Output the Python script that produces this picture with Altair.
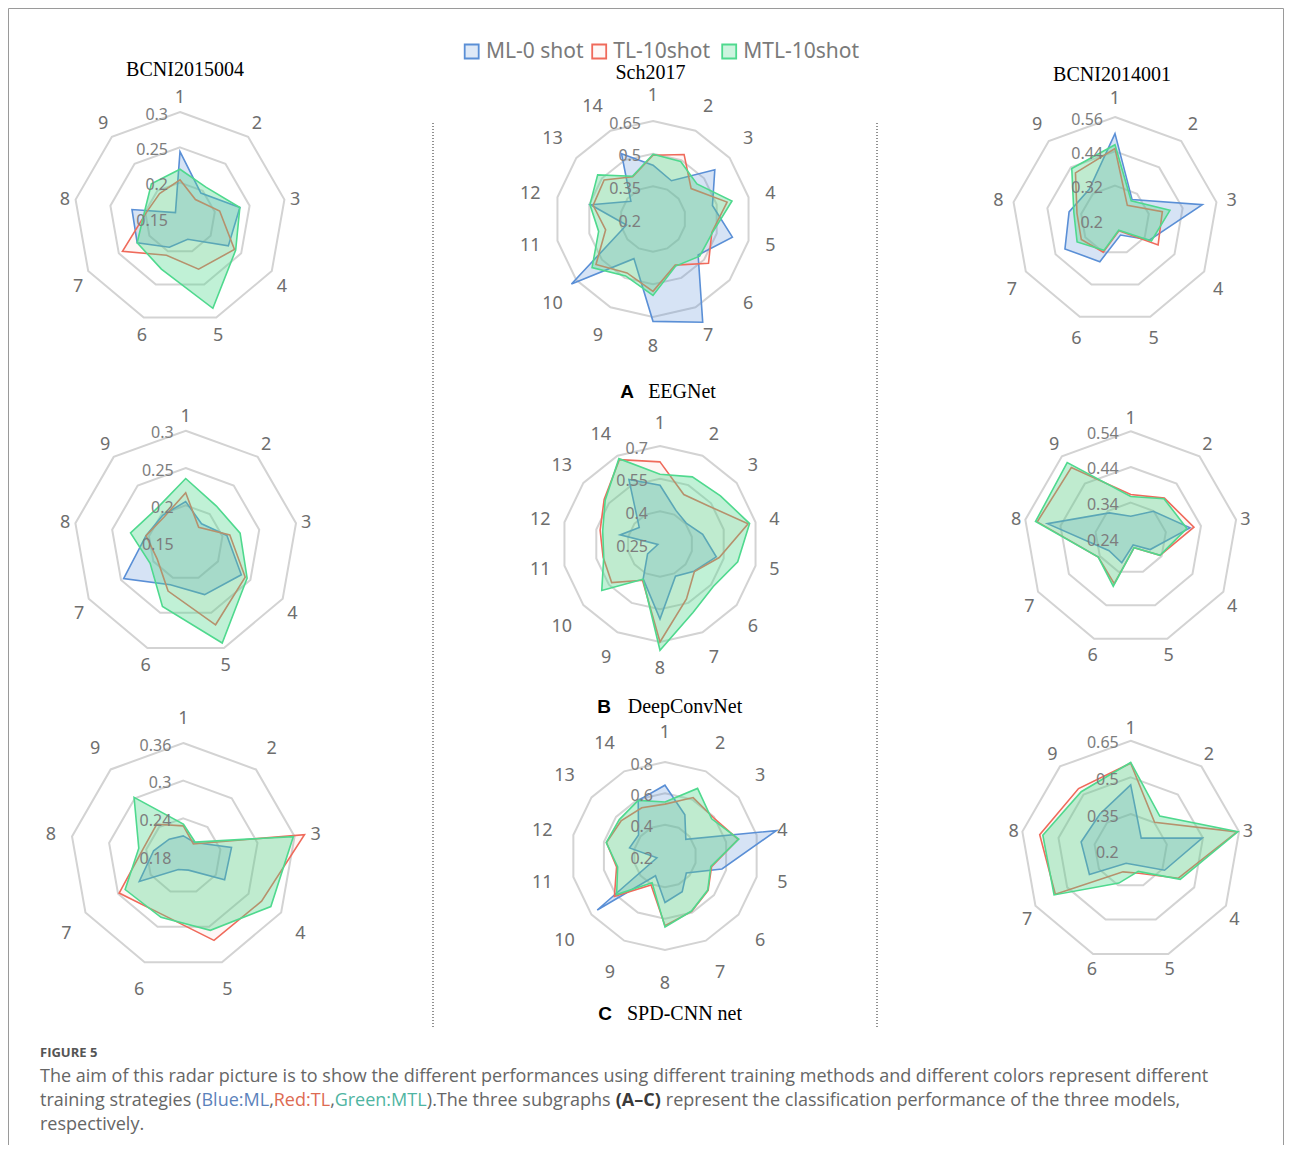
import altair as alt
import pandas as pd

# ---------------- values ----------------
SERIES = ["ML", "TL", "MTL"]
LEGEND_TEXT = ["ML-0 shot", "TL-10shot", "MTL-10shot"]
DATASETS = ["BCNI2015004", "Sch2017", "BCNI2014001"]
MODEL_LETTERS = ["A", "B", "C"]
MODEL_NAMES = ["EEGNet", "DeepConvNet", "SPD-CNN net"]

# (A) EEGNet
A_BCNI2015004_ML = [0.244, 0.196, 0.236, 0.229, 0.182, 0.194, 0.220, 0.219, 0.160]
A_BCNI2015004_TL = [0.204, 0.184, 0.207, 0.239, 0.227, 0.206, 0.244, 0.198, 0.195]
A_BCNI2015004_MTL = [0.219, 0.207, 0.236, 0.241, 0.286, 0.227, 0.220, 0.201, 0.213]
A_Sch2017_ML = [0.447, 0.395, 0.563, 0.480, 0.574, 0.465, 0.726, 0.670, 0.402, 0.679, 0.325, 0.494, 0.330, 0.533]
A_Sch2017_TL = [0.493, 0.529, 0.424, 0.549, 0.477, 0.526, 0.435, 0.532, 0.475, 0.535, 0.423, 0.482, 0.487, 0.415]
A_Sch2017_MTL = [0.497, 0.493, 0.458, 0.572, 0.480, 0.474, 0.440, 0.551, 0.490, 0.558, 0.456, 0.497, 0.525, 0.418]
A_BCNI2014001_ML = [0.502, 0.293, 0.510, 0.340, 0.256, 0.355, 0.402, 0.363, 0.340]
A_BCNI2014001_TL = [0.450, 0.267, 0.368, 0.374, 0.240, 0.320, 0.336, 0.335, 0.415]
A_BCNI2014001_MTL = [0.463, 0.288, 0.395, 0.347, 0.238, 0.313, 0.353, 0.346, 0.435]

# (B) DeepConvNet
B_BCNI2015004_ML = [0.205, 0.183, 0.206, 0.236, 0.224, 0.210, 0.246, 0.204, 0.198]
B_BCNI2015004_TL = [0.217, 0.177, 0.210, 0.242, 0.267, 0.219, 0.194, 0.204, 0.195]
B_BCNI2015004_MTL = [0.236, 0.214, 0.224, 0.245, 0.293, 0.241, 0.205, 0.225, 0.210]
B_Sch2017_ML = [0.520, 0.420, 0.404, 0.451, 0.515, 0.450, 0.414, 0.595, 0.428, 0.323, 0.260, 0.438, 0.372, 0.579]
B_Sch2017_TL = [0.627, 0.502, 0.532, 0.665, 0.529, 0.452, 0.530, 0.700, 0.435, 0.534, 0.518, 0.532, 0.578, 0.680]
B_Sch2017_MTL = [0.570, 0.592, 0.605, 0.672, 0.616, 0.563, 0.599, 0.738, 0.430, 0.592, 0.515, 0.520, 0.572, 0.685]
B_BCNI2014001_ML = [0.302, 0.339, 0.409, 0.303, 0.260, 0.313, 0.310, 0.477, 0.333]
B_BCNI2014001_TL = [0.363, 0.387, 0.420, 0.335, 0.268, 0.375, 0.345, 0.506, 0.499]
B_BCNI2014001_MTL = [0.357, 0.385, 0.400, 0.335, 0.268, 0.383, 0.345, 0.511, 0.517]

# (C) SPD-CNN net
C_BCNI2015004_ML = [0.212, 0.208, 0.258, 0.256, 0.204, 0.203, 0.261, 0.228, 0.215]
C_BCNI2015004_TL = [0.228, 0.205, 0.376, 0.324, 0.323, 0.279, 0.298, 0.245, 0.246]
C_BCNI2015004_MTL = [0.231, 0.209, 0.358, 0.341, 0.306, 0.284, 0.287, 0.252, 0.302]
C_Sch2017_ML = [0.652, 0.492, 0.370, 0.929, 0.573, 0.374, 0.453, 0.497, 0.340, 0.753, 0.253, 0.432, 0.416, 0.594]
C_Sch2017_TL = [0.531, 0.614, 0.594, 0.679, 0.505, 0.552, 0.592, 0.645, 0.405, 0.613, 0.517, 0.583, 0.559, 0.542]
C_Sch2017_MTL = [0.545, 0.679, 0.581, 0.683, 0.500, 0.549, 0.590, 0.654, 0.390, 0.595, 0.510, 0.585, 0.573, 0.594]
C_BCNI2014001_ML = [0.469, 0.267, 0.497, 0.360, 0.262, 0.255, 0.395, 0.406, 0.396]
C_BCNI2014001_TL = [0.558, 0.352, 0.642, 0.425, 0.298, 0.292, 0.556, 0.578, 0.532]
C_BCNI2014001_MTL = [0.561, 0.385, 0.645, 0.434, 0.290, 0.341, 0.562, 0.565, 0.515]

# radial tick values of every radar (first = centre)
TICKS_A_BCNI2015004 = [0.15, 0.20, 0.25, 0.30]
TICKS_A_Sch2017 = [0.20, 0.35, 0.50, 0.65]
TICKS_A_BCNI2014001 = [0.20, 0.32, 0.44, 0.56]
TICKS_B_BCNI2015004 = [0.15, 0.20, 0.25, 0.30]
TICKS_B_Sch2017 = [0.25, 0.40, 0.55, 0.70]
TICKS_B_BCNI2014001 = [0.24, 0.34, 0.44, 0.54]
TICKS_C_BCNI2015004 = [0.18, 0.24, 0.30, 0.36]
TICKS_C_Sch2017 = [0.20, 0.40, 0.60, 0.80]
TICKS_C_BCNI2014001 = [0.20, 0.35, 0.50, 0.65]

CAPTION_HEAD = "FIGURE 5"
CAPTION_L1 = ("The aim of this radar picture is to show the different performances using different "
              "training methods and different colors represent different")
CAPTION_L2 = ["training strategies (", "Blue:ML", ",", "Red:TL", ",", "Green:MTL",
              ").The three subgraphs ", "(A\u2013C)",
              " represent the classification performance of the three models,"]
CAPTION_L3 = "respectively."

# ---------------- layout (page pixels) ----------------
W, H = 1276, 1137
OFF = 8
# centre x, centre y, outer radius, axis-name gap
PANEL = {
    ("A", "BCNI2015004"): (180, 218, 106, 5.5),
    ("A", "Sch2017"): (653, 219, 98, 17),
    ("A", "BCNI2014001"): (1115, 220, 103, 10),
    ("B", "BCNI2015004"): (185.7, 542.7, 112, 5),
    ("B", "Sch2017"): (660, 544, 98, 14),
    ("B", "BCNI2014001"): (1130.7, 538.3, 107, 4),
    ("C", "BCNI2015004"): (183.3, 856, 113, 16),
    ("C", "Sch2017"): (665, 856, 94, 21),
    ("C", "BCNI2014001"): (1130.7, 850.7, 110, 3.5),
}
TITLE_POS = [(185, 76), (650.5, 79), (1112, 80.5)]
MODEL_POS = [(627, 682, 398), (604, 685, 713), (605, 684.5, 1019.5)]
LEGEND_SQ_X = [471.7, 599.2, 729.2]
LEGEND_TX_X = [486, 613.3, 743.3]
LEGEND_Y = 51.5
CAP_X0, CAP_W1 = 40, 1170
CAP_Y = [1052.5, 1077, 1101, 1125]

STYLE = {
    "ML": dict(stroke="#5a8fd6", fop=0.25),
    "TL": dict(stroke="#ef6a5b", fop=0.06),
    "MTL": dict(stroke="#4fd98e", fop=0.36),
}
SANS = "Noto Sans"
SERIF = "Liberation Serif"
CAPF = "Open Sans"

# approximate Open Sans advance widths (em) used to lay caption pieces end to end
_REG = {' ': .26, '(': .296, ')': .296, ',': .244, '.': .266, ':': .266, '-': .322, '\u2013': .5,
        'a': .556, 'b': .613, 'c': .476, 'd': .613, 'e': .561, 'f': .339, 'g': .548, 'h': .614,
        'i': .253, 'j': .253, 'k': .525, 'l': .253, 'm': .930, 'n': .614, 'o': .604, 'p': .613,
        'q': .613, 'r': .408, 's': .477, 't': .353, 'u': .614, 'v': .501, 'w': .778, 'x': .524,
        'y': .504, 'z': .468, 'A': .633, 'B': .648, 'C': .631, 'G': .728, 'L': .524, 'M': .903,
        'R': .618, 'T': .553}
_BOLD = {'(': .38, ')': .38, 'A': .74, 'C': .70, '\u2013': .58}


def em_width(s, bold=False):
    tab = _BOLD if bold else _REG
    return sum(tab.get(c, _REG.get(c, .55)) for c in s)


CAP_FS = CAP_W1 / em_width(CAPTION_L1)

VALUES = {}
TICKS = {}
for L in MODEL_LETTERS:
    for d in DATASETS:
        VALUES[(L, d)] = {s: globals()[f"{L}_{d}_{s}"] for s in SERIES}
        TICKS[(L, d)] = globals()[f"TICKS_{L}_{d}"]

rows_series, rows_rings, rows_ticklab, rows_names = [], [], [], []
for key, vals in VALUES.items():
    cx, cy, R, gap = PANEL[key]
    ticks = TICKS[key]
    n = len(vals["ML"])
    cid = f"{key[0]}-{key[1]}"
    base = dict(chart=cid, cx=cx - OFF, cy=cy - OFF, R=R, gap=gap, n=n,
                vmin=ticks[0], vmax=ticks[-1])
    for s in SERIES:
        for k, v in enumerate(vals[s]):
            rows_series.append({**base, "series": s, "k": k, "value": v, "key": cid + s})
    for t in ticks[1:]:
        for k in range(n):
            rows_rings.append({**base, "k": k, "value": t, "key": f"{cid}-{t}"})
    for t in ticks:
        rows_ticklab.append({**base, "k": 0, "value": t, "label": f"{t:g}"})
    for k in range(n):
        rows_names.append({**base, "k": k, "value": ticks[-1], "label": str(k + 1)})

df_series = pd.DataFrame(rows_series)
df_rings = pd.DataFrame(rows_rings)
df_ticklab = pd.DataFrame(rows_ticklab)
df_names = pd.DataFrame(rows_names)

XS = alt.Scale(domain=[0, W], nice=False, zero=False)
YS = alt.Scale(domain=[0, H], nice=False, zero=False, reverse=True)


def X(f):
    return alt.X(f, type="quantitative", scale=XS, axis=None)


def Y(f):
    return alt.Y(f, type="quantitative", scale=YS, axis=None)


def polar(ch):
    return (ch.transform_calculate(ang="2*PI*datum.k/datum.n")
            .transform_calculate(rr="datum.R*(datum.value-datum.vmin)/(datum.vmax-datum.vmin)")
            .transform_calculate(px="datum.cx + datum.rr*sin(datum.ang)")
            .transform_calculate(py="datum.cy - datum.rr*cos(datum.ang)"))


layers = []

# frame and dividers
df_frame = pd.DataFrame([
    dict(x=0.5, x2=0.5, y=0.5, y2=H),
    dict(x=0.5, x2=W - 0.5, y=0.5, y2=0.5),
    dict(x=W - 0.5, x2=W - 0.5, y=0.5, y2=H),
])
layers.append(alt.Chart(df_frame).mark_rule(color="#9a9a9a", strokeWidth=1).encode(
    x=X("x"), x2="x2:Q", y=Y("y"), y2="y2:Q"))
df_div = pd.DataFrame([dict(x=433 - OFF, y=123 - OFF, y2=1027 - OFF),
                       dict(x=877 - OFF, y=123 - OFF, y2=1027 - OFF)])
layers.append(alt.Chart(df_div).mark_rule(color="#222", strokeWidth=1, strokeDash=[1, 2]).encode(
    x=X("x"), y=Y("y"), y2="y2:Q"))

# grid rings
layers.append(polar(alt.Chart(df_rings)).mark_line(
    interpolate="linear-closed", stroke="#d3d3d3", strokeWidth=2).encode(
    x=X("px"), y=Y("py"), order="k:Q", detail="key:N"))

# series polygons
for s in SERIES:
    st = STYLE[s]
    layers.append(polar(alt.Chart(df_series).transform_filter(f"datum.series == '{s}'")).mark_line(
        interpolate="linear-closed", stroke=st["stroke"], strokeWidth=1.6,
        fill=st["stroke"], fillOpacity=st["fop"]).encode(
        x=X("px"), y=Y("py"), order="k:Q", detail="key:N"))

# radial tick labels
layers.append(polar(alt.Chart(df_ticklab))
              .transform_calculate(lx="datum.px - 12", ly="datum.py + 2.5")
              .mark_text(align="right", baseline="middle", font=SANS, fontSize=16, color="#7d7d7d")
              .encode(x=X("lx"), y=Y("ly"), text="label:N"))

# axis names
layers.append(alt.Chart(df_names)
              .transform_calculate(ang="2*PI*datum.k/datum.n")
              .transform_calculate(
                  nx="datum.cx + (datum.R+datum.gap)*sin(datum.ang) + (abs(sin(datum.ang))>0.38 ? (sin(datum.ang)>0?1:-1)*length(datum.label)*5.3 : 0)",
                  ny="datum.cy + 1 - (datum.R+datum.gap)*cos(datum.ang) + (abs(cos(datum.ang))>0.35 ? (cos(datum.ang)>0?-9.5:12) : 0)")
              .mark_text(align="center", baseline="middle", font=SANS, fontSize=18, color="#6e6e6e")
              .encode(x=X("nx"), y=Y("ny"), text="label:N"))

# dataset titles
df_titles = pd.DataFrame([dict(t=d, x=p[0] - OFF, y=p[1] - OFF) for d, p in zip(DATASETS, TITLE_POS)])
layers.append(alt.Chart(df_titles).mark_text(align="center", baseline="alphabetic", font=SERIF,
                                             fontSize=20, color="#000").encode(
    x=X("x"), y=Y("y"), text="t:N"))

# model labels
df_ml = pd.DataFrame([dict(t=L, x=p[0] - OFF, y=p[2] - OFF) for L, p in zip(MODEL_LETTERS, MODEL_POS)])
df_mn = pd.DataFrame([dict(t=m, x=p[1] - OFF, y=p[2] - OFF) for m, p in zip(MODEL_NAMES, MODEL_POS)])
layers.append(alt.Chart(df_ml).mark_text(align="center", baseline="alphabetic", font="Liberation Sans",
                                         fontWeight="bold", fontSize=19, color="#000").encode(
    x=X("x"), y=Y("y"), text="t:N"))
layers.append(alt.Chart(df_mn).mark_text(align="center", baseline="alphabetic", font=SERIF,
                                         fontSize=20, color="#000").encode(
    x=X("x"), y=Y("y"), text="t:N"))

# legend
for s, lab, sx, tx in zip(SERIES, LEGEND_TEXT, LEGEND_SQ_X, LEGEND_TX_X):
    st = STYLE[s]
    dsq = pd.DataFrame([dict(x=sx - OFF, y=LEGEND_Y - OFF, t=lab)])
    layers.append(alt.Chart(dsq).mark_square(size=196, fill=st["stroke"], fillOpacity=st["fop"] * 0.8,
                                             stroke=st["stroke"], strokeWidth=1.8, opacity=1).encode(
        x=X("x"), y=Y("y")))
    dtx = pd.DataFrame([dict(x=tx - OFF, y=LEGEND_Y + 0.5 - OFF, t=lab)])
    layers.append(alt.Chart(dtx).mark_text(align="left", baseline="middle", font=SANS, fontSize=21,
                                           color="#7a7a7a").encode(x=X("x"), y=Y("y"), text="t:N"))

# caption
CAP_GRAY = "#666666"
layers.append(alt.Chart(pd.DataFrame([dict(t=CAPTION_HEAD, x=CAP_X0 - OFF, y=CAP_Y[0] - OFF)]))
              .mark_text(align="left", baseline="middle", font=CAPF, fontSize=13, fontWeight="bold",
                         color="#555").encode(x=X("x"), y=Y("y"), text="t:N"))
plain = [dict(t=CAPTION_L1, x=CAP_X0 - OFF, y=CAP_Y[1] - OFF),
         dict(t=CAPTION_L3, x=CAP_X0 - OFF, y=CAP_Y[3] - OFF)]
seg_colors = [CAP_GRAY, "#5b82bb", CAP_GRAY, "#dd6b52", CAP_GRAY, "#4fb5a2", CAP_GRAY, "#3a3a3a", CAP_GRAY]
xpos = CAP_X0
bold_seg = []
for i, seg in enumerate(CAPTION_L2):
    row = dict(t=seg, x=xpos - OFF, y=CAP_Y[2] - OFF)
    xpos += em_width(seg, bold=(i == 7)) * CAP_FS
    if i == 7:
        bold_seg.append(row)
    elif seg_colors[i] == CAP_GRAY:
        plain.append(row)
    else:
        layers.append(alt.Chart(pd.DataFrame([row])).mark_text(
            align="left", baseline="middle", font=CAPF, fontSize=CAP_FS, color=seg_colors[i]).encode(
            x=X("x"), y=Y("y"), text="t:N"))
layers.append(alt.Chart(pd.DataFrame(plain)).mark_text(
    align="left", baseline="middle", font=CAPF, fontSize=CAP_FS, color=CAP_GRAY).encode(
    x=X("x"), y=Y("y"), text="t:N"))
layers.append(alt.Chart(pd.DataFrame(bold_seg)).mark_text(
    align="left", baseline="middle", font=CAPF, fontSize=CAP_FS, fontWeight="bold", color="#3a3a3a").encode(
    x=X("x"), y=Y("y"), text="t:N"))

chart = alt.layer(*layers).properties(
    width=W, height=H, autosize=alt.AutoSizeParams(type="none"),
    padding={"left": 0, "top": 0, "right": 0, "bottom": 0}, background="white",
).configure_view(stroke=None)

chart.save("out.html", embed_options={"renderer": "svg", "actions": False})
